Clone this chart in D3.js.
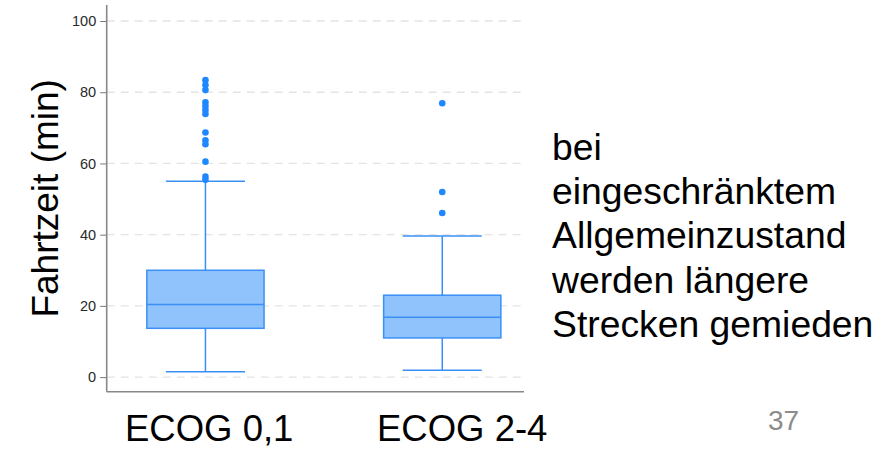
<!DOCTYPE html>
<html>
<head>
<meta charset="utf-8">
<script src="https://cdn.jsdelivr.net/npm/d3@7"></script>
<style>
  body { margin: 0; background: #fff; }
  svg { display: block; font-family: "Liberation Sans", Arial, sans-serif; }
</style>
</head>
<body>
<div id="chart"></div>
<script>
// data
var groups = ["ECOG 0,1", "ECOG 2-4"];
var whiskerLow = [1.5, 1.9];
var q1 = [13.7, 11.0];
var median = [20.4, 16.8];
var q3 = [30.0, 23.0];
var whiskerHigh = [55.0, 39.6];
var outliers = [
    [83.4, 82.0, 80.6, 77.2, 76.1, 75.0, 73.9, 68.7, 66.5, 65.4, 60.5, 56.3, 55.4],
    [76.9, 52.0, 46.1]
];
var yTicks = [0, 20, 40, 60, 80, 100];
var yTitle = "Fahrtzeit (min)";
var sideNote = ["bei", "eingeschränktem", "Allgemeinzustand", "werden längere", "Strecken gemieden"];
var pageNumber = "37";

var width = 884, height = 455;
var svg = d3.select("#chart")
    .append("svg")
    .attr("width", width)
    .attr("height", height);

// note: "top" is taken by window.top, so plot edges get their own names
var plotLeft = 106.7, plotRight = 524, plotBottom = 391.7, plotTop = 5;

var y = d3.scaleLinear()
    .domain([-4.1, 104.5])
    .range([plotBottom, plotTop]);

var x = d3.scalePoint()
    .domain(groups)
    .range([plotLeft, 541])
    .padding(0.417);

var step = x.step();
var boxW = step * 0.495;
var capW = step * 0.334;

var stroke = "#3a90f7";
var fill = "#90c2fc";
var dotColor = "#1f87ff";

// grid
svg.append("g")
    .selectAll("line")
    .data(yTicks)
    .enter()
    .append("line")
    .attr("x1", plotLeft)
    .attr("x2", plotRight - 2)
    .attr("y1", d => y(d))
    .attr("y2", d => y(d))
    .attr("stroke", "#e4e4e4")
    .attr("stroke-width", 1.3)
    .attr("stroke-dasharray", "8,6");

// y axis
var yAxis = svg.append("g")
    .attr("transform", `translate(${plotLeft},0)`)
    .call(d3.axisLeft(y).tickValues(yTicks).tickSize(6.5).tickPadding(4).tickFormat(d3.format("d")));
yAxis.select(".domain").remove();
yAxis.selectAll(".tick line").attr("stroke", "#777");
yAxis.selectAll(".tick text")
    .attr("font-size", 14.5)
    .attr("font-family", "Liberation Sans, Arial, sans-serif")
    .attr("fill", "#2a2a2a");

svg.append("line")
    .attr("x1", plotLeft).attr("x2", plotLeft)
    .attr("y1", plotTop).attr("y2", plotBottom)
    .attr("stroke", "#888").attr("stroke-width", 1.6);
svg.append("line")
    .attr("x1", plotLeft).attr("x2", plotRight)
    .attr("y1", plotBottom).attr("y2", plotBottom)
    .attr("stroke", "#888").attr("stroke-width", 1.6);

// boxes
var box = svg.append("g")
    .selectAll("g")
    .data(groups)
    .enter()
    .append("g");

box.append("line")
    .attr("x1", d => x(d)).attr("x2", d => x(d))
    .attr("y1", (d, i) => y(whiskerLow[i]))
    .attr("y2", (d, i) => y(whiskerHigh[i]))
    .attr("stroke", stroke).attr("stroke-width", 1.5);
box.selectAll(".cap")
    .data((d, i) => [whiskerLow[i], whiskerHigh[i]].map(v => ({g: d, v: v})))
    .enter()
    .append("line")
    .attr("class", "cap")
    .attr("x1", d => x(d.g) - capW / 2)
    .attr("x2", d => x(d.g) + capW / 2)
    .attr("y1", d => y(d.v))
    .attr("y2", d => y(d.v))
    .attr("stroke", stroke).attr("stroke-width", 1.5);
box.append("rect")
    .attr("x", d => x(d) - boxW / 2)
    .attr("width", boxW)
    .attr("y", (d, i) => y(q3[i]))
    .attr("height", (d, i) => y(q1[i]) - y(q3[i]))
    .attr("fill", fill)
    .attr("stroke", stroke).attr("stroke-width", 1.5);
box.append("line")
    .attr("x1", d => x(d) - boxW / 2)
    .attr("x2", d => x(d) + boxW / 2)
    .attr("y1", (d, i) => y(median[i]))
    .attr("y2", (d, i) => y(median[i]))
    .attr("stroke", stroke).attr("stroke-width", 1.5);
box.selectAll("circle")
    .data((d, i) => outliers[i].map(v => ({g: d, v: v})))
    .enter()
    .append("circle")
    .attr("cx", d => x(d.g))
    .attr("cy", d => y(d.v))
    .attr("r", 3.3)
    .attr("fill", dotColor);

// slide texts
svg.append("text")
    .attr("transform", "translate(57.5," + y(50.2) + ") rotate(-90)")
    .attr("text-anchor", "middle")
    .attr("font-size", 37)
    .attr("fill", "#000")
    .text(yTitle);

svg.selectAll(".cat")
    .data(groups)
    .enter()
    .append("text")
    .attr("class", "cat")
    .attr("x", (d, i) => i === 0 ? 125 : 377)
    .attr("y", 441)
    .attr("font-size", 36.5)
    .attr("fill", "#000")
    .text(d => d);

svg.append("text")
    .attr("x", 552)
    .attr("y", 160)
    .attr("font-size", 37.3)
    .attr("fill", "#000")
    .selectAll("tspan")
    .data(sideNote)
    .enter()
    .append("tspan")
    .attr("x", 552)
    .attr("dy", (d, i) => i === 0 ? 0 : 44.2)
    .text(d => d);

svg.append("text")
    .attr("x", 768)
    .attr("y", 430)
    .attr("font-size", 28)
    .attr("fill", "#8c8c8c")
    .text(pageNumber);
</script>
</body>
</html>
